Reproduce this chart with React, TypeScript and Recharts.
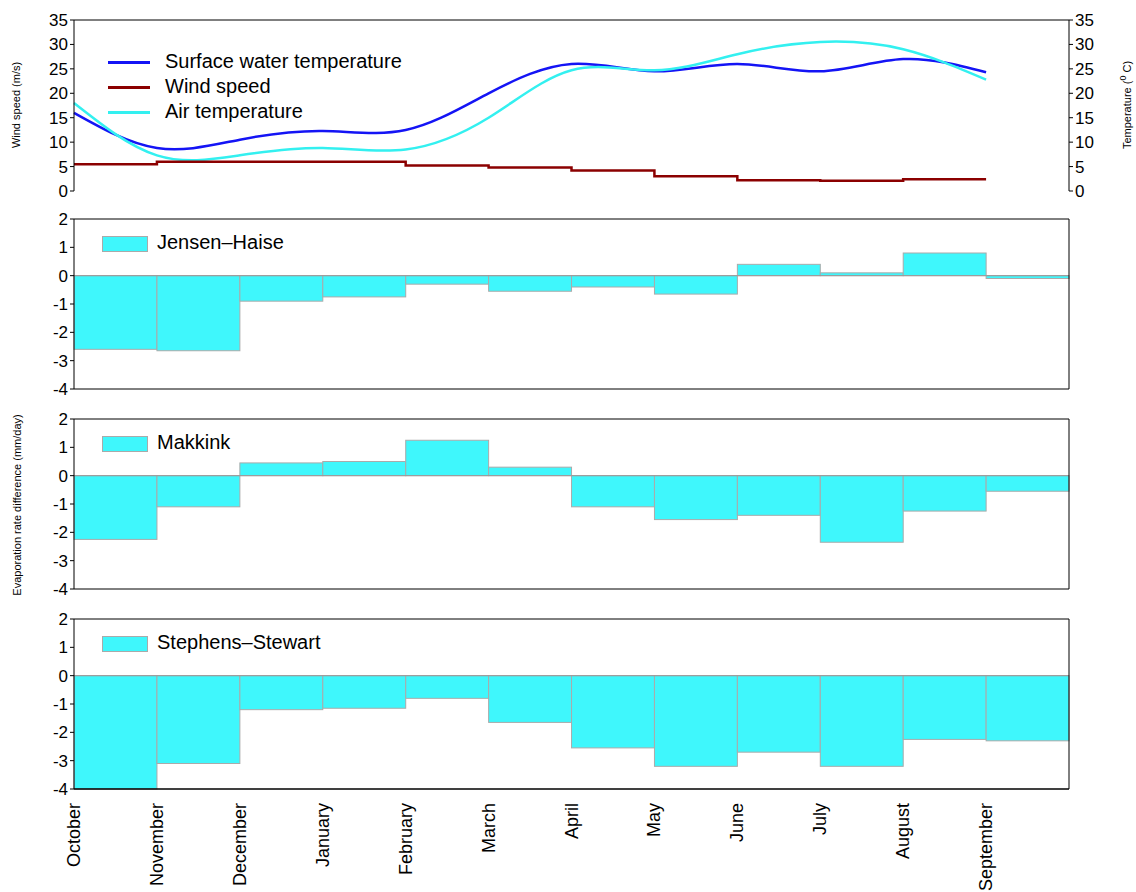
import React from "react";
import {
  ComposedChart,
  BarChart,
  Bar,
  Line,
  XAxis,
  YAxis,
  ReferenceLine,
} from "recharts";

const months = ["October", "November", "December", "January", "February", "March", "April", "May", "June", "July", "August", "September"];
const surfaceTemp = [16, 8.8, 10.5, 12.3, 12.5, 20, 26, 24.5, 26, 24.5, 27, 24.3];
const airTemp = [18, 7.3, 7.3, 8.8, 8.5, 15, 24.7, 24.7, 28, 30.5, 29, 22.8];
const windSpeed = [5.5, 6, 6, 6, 5.2, 4.8, 4.2, 3, 2.2, 2.1, 2.4, 2.4];
const jensenHaise = [-2.6, -2.65, -0.9, -0.75, -0.3, -0.55, -0.4, -0.65, 0.4, 0.1, 0.8, -0.1];
const makkink = [-2.25, -1.1, 0.45, 0.5, 1.25, 0.3, -1.1, -1.55, -1.4, -2.35, -1.25, -0.55];
const stephensStewart = [-4, -3.1, -1.2, -1.15, -0.8, -1.65, -2.55, -3.2, -2.7, -3.2, -2.25, -2.3];
const tempTicks = [0, 5, 10, 15, 20, 25, 30, 35];
const evapTicks = [-4, -3, -2, -1, 0, 1, 2];
const xTicks = [0, 1, 2, 3, 4, 5, 6, 7, 8, 9, 10, 11, 12];

const W = 1136;
const LEFT = 74;
const RIGHT = 67;
const BAR_W = (W - LEFT - RIGHT) / 12;
const FONT = "Arial, 'Liberation Sans', sans-serif";
const tick = { fill: "#000", fontSize: 17, fontFamily: FONT };
const CYAN = "#3ff7fc";

const lineData = months.map((m, i) => ({ x: i, surface: surfaceTemp[i], air: airTemp[i], wind: windSpeed[i] }));
const barRows = (vals: number[]) => vals.map((v, i) => ({ x: i + 0.5, v }));

const MonthTick = (props: any) => {
  const { x, y, payload } = props;
  if (payload.value > 11) return null;
  return (
    <text x={x} y={y + 6} transform={`rotate(-90, ${x}, ${y + 6})`} textAnchor="end" dominantBaseline="central" fontSize={18} fontFamily={FONT} fill="#000">
      {months[payload.value]}
    </text>
  );
};

// widen each bar to the full month bin around its centre
const FullBar = (props: any) => {
  const { x, y, width, height } = props;
  const cx = x + width / 2;
  const top = height < 0 ? y + height : y;
  return <rect x={cx - BAR_W / 2} y={top} width={BAR_W} height={Math.abs(height)} fill={CYAN} stroke="#aaa" strokeWidth={1} />;
};

function BarPanel({ top, vals, label, bottom }: { top: number; vals: number[]; label: string; bottom?: boolean }) {
  const h = bottom ? 283 : 190;
  return (
    <div style={{ position: "absolute", left: 0, top, width: W, height: h }}>
      <BarChart width={W} height={h} data={barRows(vals)} barCategoryGap="0%" barGap={0}
        margin={{ top: 10, right: RIGHT, left: 0, bottom: bottom ? 0 : 10 }}>
        <XAxis type="number" dataKey="x" domain={[0, 12]} ticks={xTicks} interval={0} stroke="#000" tickLine={false}
          tick={bottom ? <MonthTick /> : false} height={bottom ? 103 : 0} />
        <YAxis domain={[-4, 2]} ticks={evapTicks} interval={0} stroke="#000" tick={tick} tickSize={4} width={LEFT} />
        <Bar dataKey="v" fill={CYAN} shape={<FullBar />} isAnimationActive={false} />
        <ReferenceLine y={0} stroke="#999" />
        <ReferenceLine y={2} stroke="#000" />
        <ReferenceLine y={-4} stroke="#000" />
        <ReferenceLine x={12} stroke="#000" />
      </BarChart>
      <div style={{ position: "absolute", left: 102, top: 27, width: 46, height: 16, background: CYAN, border: "1px solid #aaa", boxSizing: "border-box" }} />
      <div style={{ position: "absolute", left: 157, top: 22, fontFamily: FONT, fontSize: 20 }}>{label}</div>
    </div>
  );
}

export default function App() {
  const legend = [
    { c: "#1414f5", t: "Surface water temperature" },
    { c: "#8b0000", t: "Wind speed" },
    { c: "#33f0f0", t: "Air temperature" },
  ];
  return (
    <div style={{ position: "absolute", left: 0, top: 0, width: W, height: 892, background: "#fff", fontFamily: FONT }}>
      <div style={{ position: "absolute", left: 0, top: 0, width: W, height: 200 }}>
        <ComposedChart width={W} height={200} data={lineData} margin={{ top: 20, right: 0, left: 0, bottom: 9 }}>
          <XAxis type="number" dataKey="x" domain={[0, 12]} ticks={xTicks} stroke="#000" tick={false} tickLine={false} height={0} />
          <YAxis domain={[0, 35]} ticks={tempTicks} interval={0} stroke="#000" tick={tick} tickSize={4} width={LEFT} />
          <YAxis yAxisId="r" orientation="right" domain={[0, 35]} ticks={tempTicks} interval={0} stroke="#000" tick={tick} tickSize={4} width={RIGHT} />
          <Line type="natural" dataKey="surface" yAxisId="r" stroke="#1414f5" strokeWidth={2.5} dot={false} isAnimationActive={false} />
          <Line type="natural" dataKey="air" yAxisId="r" stroke="#33f0f0" strokeWidth={2.5} dot={false} isAnimationActive={false} />
          <Line type="stepAfter" dataKey="wind" stroke="#8b0000" strokeWidth={2.5} dot={false} isAnimationActive={false} />
          <ReferenceLine y={35} stroke="#000" />
        </ComposedChart>
        {legend.map((l, i) => (
          <div key={l.t}>
            <div style={{ position: "absolute", left: 108, top: 61 + i * 25, width: 42, height: 3, background: l.c }} />
            <div style={{ position: "absolute", left: 165, top: 50 + i * 25, fontSize: 20 }}>{l.t}</div>
          </div>
        ))}
        <svg style={{ position: "absolute", left: 0, top: 0 }} width={W} height={200}>
          <text transform="rotate(-90, 20, 105)" x={20} y={105} textAnchor="middle" fontSize={11} fontFamily={FONT}>Wind speed (m/s)</text>
          <text transform="rotate(-90, 1131, 105)" x={1131} y={105} textAnchor="middle" fontSize={11} fontFamily={FONT}>
            Temperature (<tspan dy={-5} fontSize={9}>0</tspan><tspan dy={5}> C)</tspan>
          </text>
        </svg>
      </div>
      <BarPanel top={209} vals={jensenHaise} label="Jensen–Haise" />
      <BarPanel top={409} vals={makkink} label="Makkink" />
      <BarPanel top={609} vals={stephensStewart} label="Stephens–Stewart" bottom />
      <svg style={{ position: "absolute", left: 0, top: 200 }} width={40} height={600}>
        <text transform="rotate(-90, 21, 305)" x={21} y={305} textAnchor="middle" fontSize={11} fontFamily={FONT}>Evaporation rate difference (mm/day)</text>
      </svg>
    </div>
  );
}
